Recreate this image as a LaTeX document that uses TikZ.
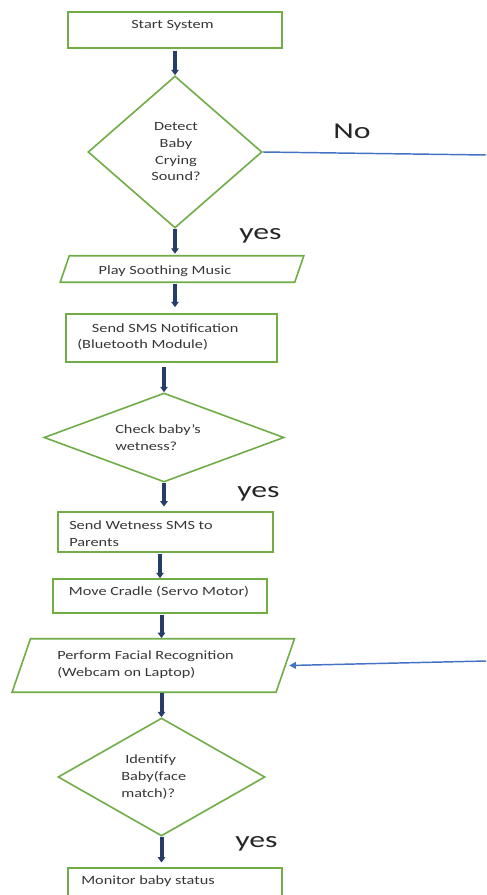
\documentclass[tikz,border=0pt]{standalone}
\usepackage{fontspec}
\usetikzlibrary{shapes.geometric,arrows.meta}
\newfontfamily\bodyfont[FakeStretch=1.3]{Carlito}
\newfontfamily\labelfont[FakeStretch=1.4]{Carlito}
\definecolor{boxgreen}{RGB}{112,173,71}
\definecolor{navyarrow}{RGB}{38,60,105}
\definecolor{linkblue}{RGB}{68,114,196}
\definecolor{txtgray}{RGB}{55,55,55}
\begin{document}
\begin{tikzpicture}[x=0.75pt,y=-0.75pt,
  box/.style={draw=boxgreen, line width=1.2pt, rectangle, inner sep=0pt},
  decision/.style={draw=boxgreen, line width=1.2pt, diamond, inner sep=0pt},
  iobody/.style={rectangle, inner sep=0pt},
  outline/.style={draw=boxgreen, line width=1.2pt, line join=miter},
  txt/.style={inner sep=0pt, text=txtgray, font=\bodyfont\fontsize{9.4pt}{12.5pt}\selectfont},
  lbl/.style={inner sep=0pt, text=black!85, font=\labelfont\fontsize{17pt}{20pt}\selectfont},
  flow/.style={draw=navyarrow, line width=3pt, -{Triangle[length=4pt,width=5.5pt]}},
  link/.style={draw=linkblue, line width=1.1pt},
  linkarrow/.style={link, -{Triangle[length=5pt,width=5pt]}}
]
\clip (0,0) rectangle (486,895);
\fill[white] (0,0) rectangle (486,895);

% shapes
\node[box, minimum width=160.5pt, minimum height=27pt] (start) at (175,30) {};
\node[txt, anchor=base] (startT) at (172.5,28.5) {Start System};

\node[decision, minimum width=130.5pt, minimum height=114pt] (d1) at (175,152) {};
\node[txt, align=center] (d1T) at (176,152) {Detect\\Baby\\Crying\\Sound?};

\node[iobody, minimum width=175.5pt, minimum height=19.5pt] (play) at (182,269) {};
\draw[outline] ([xshift=-3.4pt]play.south west) -- ([xshift=3.4pt]play.north west)
  -- ([xshift=3.4pt]play.north east) -- ([xshift=-3.4pt]play.south east) -- cycle;
\node[txt, anchor=base] (playT) at (165,274.5) {Play Soothing Music};

\node[box, minimum width=158.25pt, minimum height=36pt] (sms) at (171.5,338) {};
\node[txt, align=left, anchor=west] (smsT) at (77,337) {\hspace{11pt}Send SMS Notification\\(Bluetooth Module)};

\node[decision, minimum width=180pt, minimum height=66.75pt] (d2) at (164,437.5) {};
\node[txt, align=left, anchor=west] (d2T) at (115,437.5) {Check baby’s\\wetness?};

\node[box, minimum width=161.25pt, minimum height=30pt] (wet) at (165.5,532) {};
\node[txt, align=left, anchor=west] (wetT) at (69,533.5) {Send Wetness SMS to\\Parents};

\node[box, minimum width=160.5pt, minimum height=25.5pt] (cradle) at (160,596) {};
\node[txt, anchor=base] (cradleT) at (159,595.5) {Move Cradle (Servo Motor)};

\node[iobody, minimum width=197.6pt, minimum height=39.75pt] (perform) at (153.25,665.5) {};
\draw[outline] ([xshift=-6.9pt]perform.south west) -- ([xshift=6.9pt]perform.north west)
  -- ([xshift=6.9pt]perform.north east) -- ([xshift=-6.9pt]perform.south east) -- cycle;
\node[txt, align=left, anchor=west] (performT) at (57,664.5) {Perform Facial Recognition\\(Webcam on Laptop)};

\node[decision, minimum width=155.25pt, minimum height=88.5pt] (d3) at (161.5,777) {};
\node[txt, align=left, anchor=west] (d3T) at (121,777) {\hspace{3pt}Identify\\Baby(face\\match)?};

\node[box, minimum width=160.5pt, minimum height=39pt] (monitor) at (175,894) {};
\node[txt, anchor=base west] (monitorT) at (81,884) {Monitor baby status};

% labels
\node[lbl, anchor=base] (no) at (352,139) {No};
\node[lbl, anchor=base] (yes1) at (260.5,239) {yes};
\node[lbl, anchor=base] (yes2) at (258.5,497) {yes};
\node[lbl, anchor=base] (yes3) at (256.5,847) {yes};

% flow arrows
\draw[flow] ([yshift=-1.5pt]start.south) -- (d1.north);
\draw[flow] (d1.south) -- ([yshift=1.5pt]d1.south |- play.north);
\draw[flow] ([yshift=-1pt]d1.south |- play.south) -- ([yshift=4.5pt]d1.south |- sms.north);
\draw[flow] ([yshift=-3pt]d2.north |- sms.south) -- (d2.north);
\draw[flow] (d2.south) -- ([yshift=3.5pt]d2.south |- wet.north);
\draw[flow] ([yshift=-1pt]cradle.north |- wet.south) -- (cradle.north);
\draw[flow] ([yshift=-1pt]d3.north |- cradle.south) -- ([yshift=0.5pt]d3.north |- perform.north);
\draw[flow] ([yshift=-0.5pt]d3.north |- perform.south) -- (d3.north);
\draw[flow] (d3.south) -- ([yshift=3.5pt]d3.south |- monitor.north);

% blue links
\coordinate (noEnd) at (486,155);
\draw[link] (d1.east) -- (noEnd);
\coordinate (retStart) at (486,661);
\draw[linkarrow] (retStart) -- ([xshift=3pt]perform.east);
\end{tikzpicture}
\end{document}
